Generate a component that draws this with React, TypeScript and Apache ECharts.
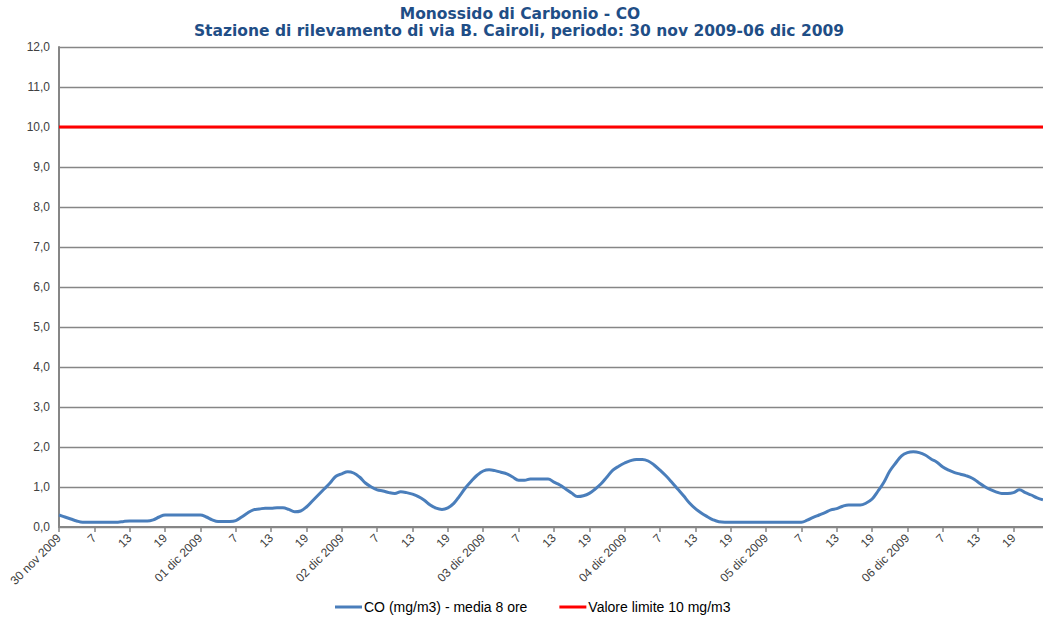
import React, { useEffect, useRef } from "react";
import * as echarts from "echarts";

const TITLE_LINE_1 = "Monossido di Carbonio - CO";
const TITLE_LINE_2 = "Stazione di rilevamento di via B. Cairoli, periodo: 30 nov 2009-06 dic 2009";

const DAYS = ["30 nov 2009", "01 dic 2009", "02 dic 2009", "03 dic 2009", "04 dic 2009", "05 dic 2009", "06 dic 2009"];
const HOURS = [1, 2, 3, 4, 5, 6, 7, 8, 9, 10, 11, 12, 13, 14, 15, 16, 17, 18, 19, 20, 21, 22, 23, 24];

const CO_DAY1 = [0.3, 0.25, 0.2, 0.15, 0.12, 0.12, 0.12, 0.12, 0.12, 0.12, 0.12, 0.14, 0.15, 0.15, 0.15, 0.15, 0.18, 0.25, 0.3, 0.3, 0.3, 0.3, 0.3, 0.3];
const CO_DAY2 = [0.3, 0.25, 0.18, 0.14, 0.14, 0.14, 0.16, 0.25, 0.35, 0.43, 0.45, 0.47, 0.47, 0.48, 0.48, 0.44, 0.38, 0.4, 0.5, 0.65, 0.8, 0.95, 1.1, 1.27];
const CO_DAY3 = [1.33, 1.38, 1.35, 1.25, 1.1, 1.0, 0.93, 0.9, 0.86, 0.84, 0.88, 0.86, 0.82, 0.76, 0.67, 0.55, 0.47, 0.44, 0.48, 0.59, 0.78, 0.98, 1.15, 1.3];
const CO_DAY4 = [1.4, 1.43, 1.41, 1.37, 1.33, 1.25, 1.17, 1.17, 1.2, 1.2, 1.2, 1.2, 1.12, 1.05, 0.95, 0.85, 0.76, 0.78, 0.84, 0.95, 1.08, 1.25, 1.42, 1.52];
const CO_DAY5 = [1.6, 1.66, 1.69, 1.69, 1.65, 1.55, 1.42, 1.28, 1.12, 0.95, 0.78, 0.6, 0.46, 0.35, 0.26, 0.18, 0.13, 0.12, 0.12, 0.12, 0.12, 0.12, 0.12, 0.12];
const CO_DAY6 = [0.12, 0.12, 0.12, 0.12, 0.12, 0.12, 0.12, 0.17, 0.24, 0.3, 0.36, 0.43, 0.46, 0.52, 0.55, 0.55, 0.55, 0.6, 0.7, 0.9, 1.12, 1.4, 1.6, 1.78];
const CO_DAY7 = [1.86, 1.88, 1.86, 1.8, 1.7, 1.62, 1.5, 1.42, 1.36, 1.32, 1.28, 1.22, 1.12, 1.02, 0.94, 0.88, 0.84, 0.84, 0.86, 0.93, 0.86, 0.8, 0.73, 0.68];

const CO_VALUES = [...CO_DAY1, ...CO_DAY2, ...CO_DAY3, ...CO_DAY4, ...CO_DAY5, ...CO_DAY6, ...CO_DAY7];
const LIMIT_VALUE = 10;

const SERIES_CO = "CO (mg/m3) - media 8 ore";
const SERIES_LIMIT = "Valore limite 10 mg/m3";

const Y_MIN = 0;
const Y_MAX = 12;
const Y_STEP = 1;

const CATEGORIES: string[] = [];
DAYS.forEach((d) => HOURS.forEach((h) => CATEGORIES.push(d + " " + h)));

export default function App() {
  const ref = useRef<HTMLDivElement>(null);

  useEffect(() => {
    if (!ref.current) return;
    const chart = echarts.init(ref.current, undefined, { renderer: "svg" });
    const labelFont = "'Liberation Sans', Arial, sans-serif";
    const titleStyle = {
      fontFamily: "'DejaVu Sans', sans-serif",
      fontWeight: "bold",
      fontSize: 15.5,
      fill: "#1F4E86",
      textAlign: "center",
      textVerticalAlign: "middle",
    };
    chart.setOption({
      animation: false,
      backgroundColor: "#ffffff",
      graphic: [
        {
          type: "text",
          x: 520,
          y: 14,
          style: { ...titleStyle, text: TITLE_LINE_1 },
        },
        {
          type: "text",
          x: 519,
          y: 31,
          style: { ...titleStyle, text: TITLE_LINE_2 },
        },
      ],
      legend: {
        left: 330,
        top: 595,
        itemWidth: 27,
        itemHeight: 3,
        itemGap: 32,
        icon: "rect",
        textStyle: {
          fontFamily: labelFont,
          fontSize: 14,
          color: "#000000",
          padding: [0, 0, 0, -3],
        },
        data: [SERIES_CO, SERIES_LIMIT],
      },
      grid: {
        left: 59,
        top: 47,
        width: 986,
        height: 480,
        containLabel: false,
      },
      xAxis: {
        type: "category",
        boundaryGap: false,
        data: CATEGORIES,
        axisLine: { lineStyle: { color: "#868686", width: 2 } },
        axisTick: {
          show: true,
          interval: (i: number) => i % 6 === 0,
          length: 5,
          lineStyle: { color: "#868686", width: 1.5 },
        },
        axisLabel: {
          interval: (i: number) => i % 6 === 0,
          rotate: 45,
          margin: 9,
          fontFamily: labelFont,
          fontSize: 12,
          color: "#404040",
          formatter: (_v: string, i: number) =>
            i % 24 === 0 ? DAYS[Math.floor(i / 24)] : String(HOURS[i % 24]),
        },
        splitLine: { show: false },
      },
      yAxis: {
        type: "value",
        min: Y_MIN,
        max: Y_MAX,
        interval: Y_STEP,
        axisLine: { show: true, lineStyle: { color: "#868686", width: 2 } },
        axisTick: { show: false },
        axisLabel: {
          margin: 9,
          fontFamily: labelFont,
          fontSize: 12,
          color: "#404040",
          formatter: (v: number) => v.toFixed(1).replace(".", ","),
        },
        splitLine: { lineStyle: { color: "#868686", width: 1.3 } },
      },
      series: [
        {
          name: SERIES_CO,
          type: "line",
          data: CO_VALUES,
          smooth: 0.4,
          symbol: "none",
          lineStyle: { color: "#4A7EBB", width: 3 },
          itemStyle: { color: "#4A7EBB" },
          z: 3,
        },
        {
          name: SERIES_LIMIT,
          type: "line",
          data: CATEGORIES.map(() => LIMIT_VALUE),
          symbol: "none",
          lineStyle: { color: "#FF0000", width: 3 },
          itemStyle: { color: "#FF0000" },
          z: 2,
        },
      ],
    });
    return () => chart.dispose();
  }, []);

  return (
    <div
      ref={ref}
      style={{ position: "absolute", left: 0, top: 0, width: 1043, height: 637 }}
    />
  );
}
